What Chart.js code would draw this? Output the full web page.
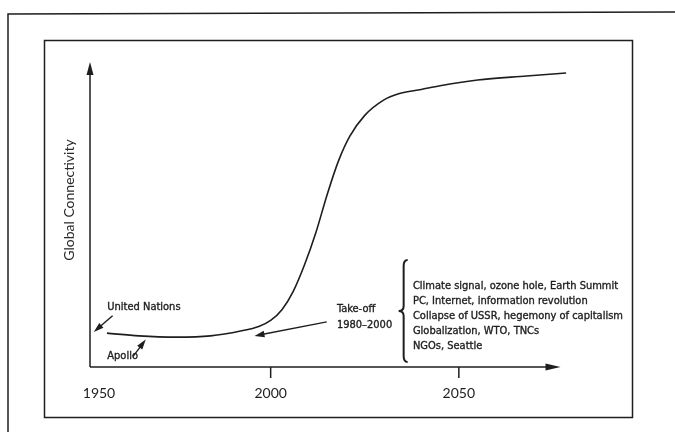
<!DOCTYPE html>
<html>
<head>
<meta charset="utf-8">
<script src="https://cdn.jsdelivr.net/npm/chart.js@4.4.1/dist/chart.umd.min.js"></script>
<style>
  html, body { margin: 0; padding: 0; background: #fff; }
  #wrap { width: 675px; height: 432px; position: relative; }
</style>
</head>
<body>
<div id="wrap"><canvas id="Connectivity_Chart"></canvas></div>
<script>
// data
var years = [1956.5, 1965, 1975, 1984, 1992, 1997, 2000, 2003, 2006, 2009, 2012, 2015, 2018, 2021, 2025, 2030, 2034, 2040, 2045, 2055, 2068, 2078.5];
var connectivity = [11.1, 10.2, 9.8, 10.2, 11.8, 13.4, 15.3, 18.8, 24.8, 33.5, 44, 56.5, 67.5, 75.6, 82.5, 87.5, 89.6, 91.0, 92.2, 94.1, 95.4, 96.4];
var tickYears = [1950, 2000, 2050];
var yTitle = 'Global Connectivity';
var eventLines = [
  'Climate signal, ozone hole, Earth Summit',
  'PC, Internet, information revolution',
  'Collapse of USSR, hegemony of capitalism',
  'Globalization, WTO, TNCs',
  'NGOs, Seattle'
];
// annotations in data units [year, connectivity]
var unText = { text: 'United Nations', at: [1956.6, 19.7] };
var unArrow = { from: [1958.0, 16.8], to: [1953.0, 11.5] };
var apolloText = { text: 'Apollo', at: [1956.6, 3.6] };
var apolloArrow = { from: [1963.4, 3.4], to: [1966.8, 9.0] };
var takeoffText = { lines: ['Take-off', '1980\u20132000'], at: [2017.6, 19.0] };
var takeoffArrow = { from: [2014.9, 14.8], to: [1995.7, 10.2] };
var brace = { year: 2035.6, top: 35.1, bottom: 1.6 };
var eventsAt = [2037.8, 26.6];
var xAxisEnd = 2077;

var ink = '#1e1e1e';
var noteFont = '11px "Liberation Sans Narrow", "DejaVu Sans Condensed", sans-serif';

function arrow(ctx, x1, y1, x2, y2, len, half) {
  var a = Math.atan2(y2 - y1, x2 - x1);
  ctx.beginPath();
  ctx.moveTo(x1, y1);
  ctx.lineTo(x2 - Math.cos(a) * len * 0.6, y2 - Math.sin(a) * len * 0.6);
  ctx.stroke();
  ctx.beginPath();
  ctx.moveTo(x2, y2);
  ctx.lineTo(x2 - Math.cos(a) * len + Math.sin(a) * half, y2 - Math.sin(a) * len - Math.cos(a) * half);
  ctx.lineTo(x2 - Math.cos(a) * len - Math.sin(a) * half, y2 - Math.sin(a) * len + Math.cos(a) * half);
  ctx.closePath();
  ctx.fill();
}

function note(ctx, s, x, y) {
  ctx.fillText(s, x, y);
  ctx.strokeText(s, x, y);
}

var decor = {
  id: 'decor',
  beforeDraw: function (chart) {
    var ctx = chart.ctx;
    ctx.save();
    ctx.fillStyle = '#fff';
    ctx.fillRect(0, 0, chart.width, chart.height);
    ctx.strokeStyle = ink;
    ctx.lineWidth = 1.5;
    // outer page frame
    ctx.beginPath();
    ctx.moveTo(8, chart.height);
    ctx.lineTo(8, 14);
    ctx.lineTo(chart.width, 12);
    ctx.stroke();
    // inner box
    ctx.strokeRect(44.5, 40.5, 588, 377);
    ctx.restore();
  },
  afterDatasetsDraw: function (chart) {
    var ctx = chart.ctx, xs = chart.scales.x, ys = chart.scales.y, area = chart.chartArea;
    function px(p) { return [xs.getPixelForValue(p[0]), ys.getPixelForValue(p[1])]; }
    ctx.save();
    ctx.strokeStyle = ink;
    ctx.fillStyle = ink;
    ctx.lineWidth = 1.5;

    // axes with arrows
    arrow(ctx, area.left, area.bottom, area.left, area.top, 13, 3.5);
    arrow(ctx, area.left, area.bottom, xs.getPixelForValue(xAxisEnd), area.bottom, 15, 3.5);

    // ticks and labels
    ctx.font = '14px Lato, "Open Sans", sans-serif';
    ctx.textAlign = 'center';
    ctx.textBaseline = 'middle';
    tickYears.forEach(function (t, i) {
      var x = xs.getPixelForValue(t);
      if (i > 0) {
        ctx.beginPath();
        ctx.moveTo(x, area.bottom);
        ctx.lineTo(x, area.bottom + 11);
        ctx.stroke();
      }
      ctx.fillText(String(t), Math.max(x, area.left + 9), area.bottom + 26);
    });

    // y title
    ctx.save();
    ctx.translate(69, 200);
    ctx.rotate(-Math.PI / 2);
    ctx.font = '14px Lato, "Open Sans", sans-serif';
    ctx.fillStyle = '#2a2a2a';
    ctx.fillText(yTitle, 0, 0);
    ctx.restore();

    // notes
    ctx.font = noteFont;
    ctx.textAlign = 'left';
    ctx.lineWidth = 0.35;
    var p = px(unText.at);
    note(ctx, unText.text, p[0], p[1]);
    p = px(apolloText.at);
    note(ctx, apolloText.text, p[0], p[1]);
    p = px(takeoffText.at);
    takeoffText.lines.forEach(function (l, i) { note(ctx, l, p[0], p[1] + i * 16); });
    p = px(eventsAt);
    eventLines.forEach(function (l, i) { note(ctx, l, p[0], p[1] + i * 15); });

    ctx.lineWidth = 1.4;
    [unArrow, apolloArrow, takeoffArrow].forEach(function (a) {
      var f = px(a.from), t = px(a.to);
      arrow(ctx, f[0], f[1], t[0], t[1], 10, 3.2);
    });

    // brace
    var bx = xs.getPixelForValue(brace.year), bt = ys.getPixelForValue(brace.top), bb = ys.getPixelForValue(brace.bottom);
    var mid = (bt + bb) / 2;
    ctx.lineWidth = 2;
    ctx.beginPath();
    ctx.moveTo(bx + 3, bt);
    ctx.quadraticCurveTo(bx - 1, bt, bx - 1, bt + 6);
    ctx.lineTo(bx - 1, mid - 5);
    ctx.quadraticCurveTo(bx - 1, mid, bx - 6, mid);
    ctx.quadraticCurveTo(bx - 1, mid, bx - 1, mid + 5);
    ctx.lineTo(bx - 1, bb - 6);
    ctx.quadraticCurveTo(bx - 1, bb, bx + 3, bb);
    ctx.stroke();
    ctx.restore();
  }
};

new Chart(document.getElementById('Connectivity_Chart').getContext('2d'), {
  type: 'line',
  data: {
    datasets: [{
      label: yTitle,
      data: years.map(function (y, i) { return { x: y, y: connectivity[i] }; }),
      borderColor: ink,
      borderWidth: 1.6,
      pointRadius: 0,
      cubicInterpolationMode: 'monotone',
      fill: false,
      clip: false
    }]
  },
  options: {
    responsive: true,
    maintainAspectRatio: false,
    animation: false,
    layout: { padding: { left: 90, right: 107, top: 62, bottom: 65 } },
    plugins: { legend: { display: false }, tooltip: { enabled: false } },
    scales: {
      x: { type: 'linear', min: 1952, max: 2079, display: false },
      y: { min: 0, max: 100, display: false }
    }
  },
  plugins: [decor]
});
</script>
</body>
</html>
